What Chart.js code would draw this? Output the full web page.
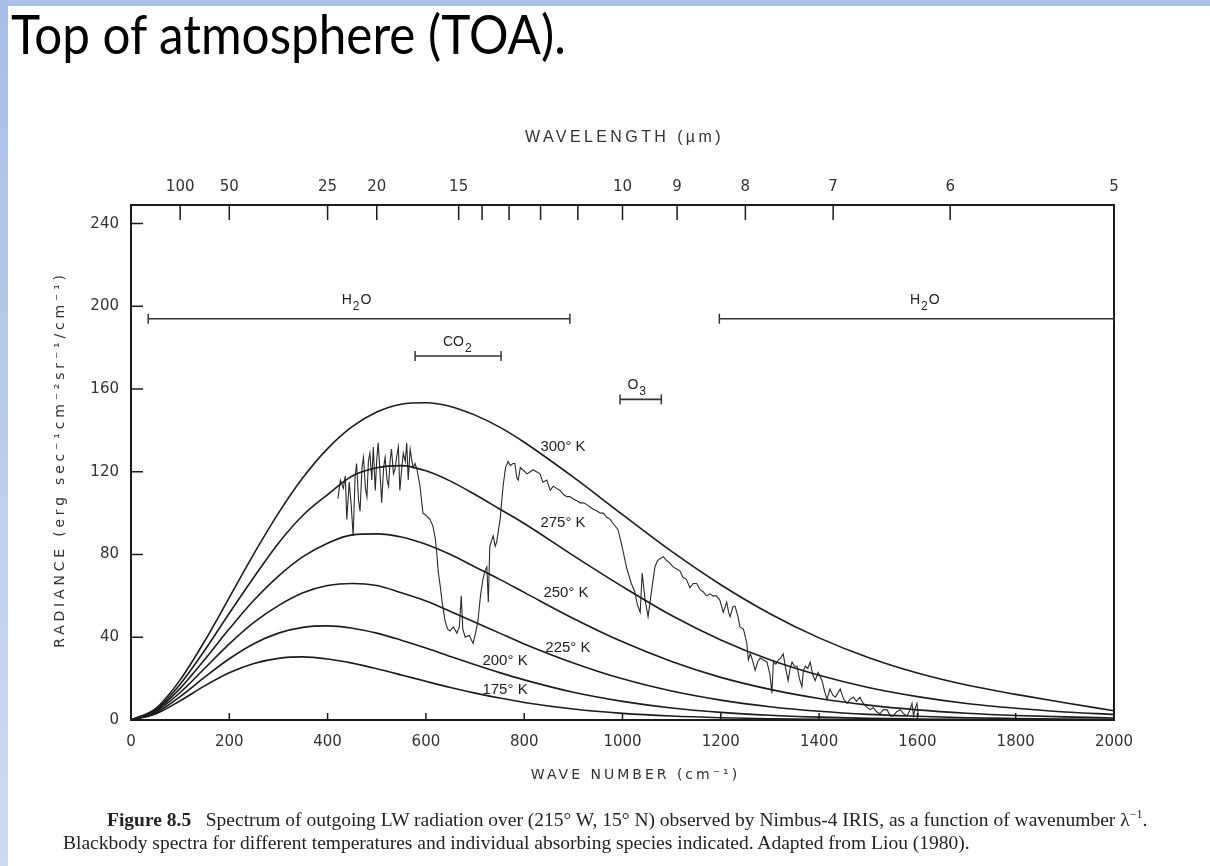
<!DOCTYPE html>
<html>
<head>
<meta charset="utf-8">
<script src="https://cdn.jsdelivr.net/npm/chart.js@4.4.1/dist/chart.umd.min.js"></script>
<style>
  html, body { margin: 0; padding: 0; background: #fff; }
  body { width: 1210px; height: 866px; position: relative; overflow: hidden; }
  #topband { position: absolute; left: 0; top: 0; width: 1210px; height: 6px; background: #adc2e8; }
  #leftband { position: absolute; left: 0; top: 0; width: 8px; height: 866px; background: linear-gradient(#a8bee6, #cfdbf1); }
  #title { position: absolute; left: 11px; top: 7px; font-family: Lato, "Open Sans", sans-serif; font-size: 54px; line-height: 1; color: #000; white-space: nowrap; transform: scaleX(0.915); transform-origin: left top; }
  #chart { position: absolute; left: 0; top: 0; }
  #caption { position: absolute; left: 63px; top: 803px; font-family: "Liberation Serif", "Times New Roman", serif; font-size: 19.5px; line-height: 23px; color: #222; white-space: nowrap; }
  #caption .l1 { padding-left: 44px; }
</style>
</head>
<body>
<div id="topband"></div>
<div id="leftband"></div>
<canvas id="chart" width="1210" height="866"></canvas>
<div id="title">Top of atmosphere (TOA).</div>
<div id="caption">
  <div class="l1"><b>Figure 8.5</b>&nbsp;&nbsp;&nbsp;Spectrum of outgoing LW radiation over (215° W, 15° N) observed by Nimbus-4 IRIS, as a function of wavenumber λ<sup style="font-size:12px">−1</sup>.</div>
  <div>Blackbody spectra for different temperatures and individual absorbing species indicated. Adapted from Liou (1980).</div>
</div>
<script>
// ---------- DATA ----------
const bbWavenumber = [0, 50, 100, 150, 200, 250, 300, 350, 400, 450, 500, 550, 600, 650, 700, 750, 800, 900, 1000, 1100, 1200, 1300, 1400, 1500, 1600, 1700, 1800, 1900, 2000];
const bb300 = [0, 5.5, 19.4, 38.2, 59.2, 80.3, 100.0, 117.2, 131.2, 141.8, 148.9, 152.7, 153.4, 151.6, 147.4, 141.6, 134.3, 117.4, 99.3, 81.5, 65.4, 51.4, 39.7, 30.2, 22.7, 16.9, 12.4, 8.3, 4.5];
const bb275 = [0, 5.0, 17.3, 33.7, 51.6, 69.0, 85.5, 99.0, 109.0, 118.0, 122.0, 123.0, 120.5, 115.5, 109.0, 102.0, 95.0, 79.5, 64.5, 50.5, 38.7, 29.1, 21.6, 15.7, 11.3, 8.0, 5.7, 3.9, 2.7];
const bb250 = [0, 4.5, 15.3, 29.3, 44.1, 57.9, 69.6, 79.0, 85.5, 89.5, 90.0, 88.5, 85.0, 80.0, 74.0, 68.0, 61.7, 49.1, 37.8, 28.3, 20.6, 14.8, 10.4, 7.2, 4.9, 3.3, 2.2, 1.5, 1.0];
const bb225 = [0, 4.0, 13.3, 25.0, 36.8, 47.2, 55.3, 61.5, 65.0, 66.0, 65.0, 61.5, 57.5, 52.5, 47.3, 42.0, 36.8, 27.6, 19.9, 14.0, 9.6, 6.4, 4.2, 2.7, 1.8, 1.1, 0.7, 0.4, 0.3];
const bb200 = [0, 3.4, 11.3, 20.7, 29.6, 36.9, 42.0, 44.8, 45.5, 44.4, 42.0, 38.6, 34.8, 30.7, 26.7, 22.9, 19.4, 13.4, 9.0, 5.8, 3.7, 2.3, 1.4, 0.8, 0.5, 0.3, 0.2, 0.1, 0.05];
const bb175 = [0, 2.9, 9.3, 16.5, 22.8, 27.3, 29.8, 30.5, 29.5, 27.5, 24.8, 21.8, 18.7, 15.7, 13.0, 10.6, 8.5, 5.3, 3.2, 1.9, 1.1, 0.6, 0.3, 0.2, 0.1, 0.05, 0.03, 0.02, 0.01];
const bbNames = ['300° K', '275° K', '250° K', '225° K', '200° K', '175° K'];

const obsWavenumber = [421,426,432,436,439,444,448,452,456,459,463,466,470,473,477,480,483,486,490,493,497,500,503,507,510,514,517,521,524,527,530,534,537,541,544,547,551,554,558,561,564,568,571,574,578,582,
  588,594,600,608,614,619,622,625,629,633,639,644,649,656,663,668,672,675,680,688,696,701,706,711,716,720,724,727,730,734,737,741,744,751,757,762,767,772,777,781,785,788,792,797,806,812,818,825,832,838,846,853,859,866,873,880,887,893,899,907,914,921,928,934,940,948,955,961,968,975,981,991,999,
  1009,1018,1025,1030,1036,1040,1046,1052,1056,1060,1066,1071,1076,1083,1090,1096,1103,1110,1117,1123,1130,1137,1144,1151,1158,1164,1171,1178,1184,1191,1198,1205,1212,1216,1219,1225,1229,1235,1239,1246,1253,1256,1260,1263,1270,1275,1280,1287,1294,1300,1304,1307,1312,1317,1322,1327,1332,1337,1341,1345,1350,1355,1360,1365,1368,1372,1377,1382,1387,1392,1398,1402,1406,1411,1416,1422,1428,1433,1438,1443,1450,1457,1463,1470,1476,1483,1490,1498,1504,1510,1517,1524,1531,1538,1545,1551,1558,1565,1572,1579,1585,1589,1592,1596,1599,1602];
const obsRadiance = [107,116,112,118,97,115,104,89,118,124,106,101,122,127,112,108,125,129,116,132,111,126,134,118,105,122,127,116,113,125,131,119,121,128,132,111,122,129,125,134,116,131,126,122,124,121,
  113,100,99,97,94,88,81,72,65,57,48,44,43,45,42,45,60,44,40,41,37,42,48,60,68,72,74,57,84,87,89,84,86,97,113,122,125,123,124,124,117,116,122,121,119,120,121,120,119,115,116,111,113,112,111,109,108,108,107,106,105,105,104,103,102,101,100,100,98,97,95,92,84,
  73,66,62,56,52,71,58,50,57,64,74,77,78,79,77,76,74,73,72,69,68,64,66,66,63,62,60,61,60,60,58,52,57,52,50,55,55,50,45,44,37,29,32,30,24,28,30,29,28,22,13,28,27,29,30,32,25,19,25,28,26,26,20,16,24,26,25,28,22,19,23,21,19,14,10,15,12,11,13,15,10,8,10,11,9,11,8,6,5,6,4,3,5,5,2,2,4,5,3,2,5,8,2,6,8,2];

const bandNames = ['H2O', 'H2O', 'CO2', 'O3'];
const bandStart = [35, 1197, 578, 995];
const bandEnd = [893, 2000, 753, 1079];
const bandLevel = [194, 194, 176, 155];

const wavelengthMicron = [100, 50, 25, 20, 15, 14, 13, 12, 11, 10, 9, 8, 7, 6, 5];
const wavelengthLabels = ['100', '50', '25', '20', '15', '', '', '', '', '10', '9', '8', '7', '6', '5'];

// ---------- LABEL PLACEMENT (annotation layout, data coords) ----------
const bbLabelPos = [[879, 132], [879, 95.4], [885, 61.5], [889, 35], [761, 28.6], [761, 14.5]];
const bandLabelPos = [[460, 203], [1616, 203], [665, 182.6], [1030, 162]];
const bandLabelParts = [[['H', 0], ['2', 1], ['O', 0]], [['H', 0], ['2', 1], ['O', 0]], [['CO', 0], ['2', 1]], [['O', 0], ['3', 1]]];

// ---------- CHART ----------
const ink = '#1c1c1c';
const tickFont = { family: '"DejaVu Sans", sans-serif', size: 14 };

function bbDataset(name, vals) {
  return {
    label: name,
    data: bbWavenumber.map((x, i) => ({ x: x, y: vals[i] })),
    showLine: true, borderColor: ink, borderWidth: 1.6, pointRadius: 0,
    cubicInterpolationMode: 'monotone', fill: false
  };
}

const datasets = [
  bbDataset(bbNames[0], bb300), bbDataset(bbNames[1], bb275), bbDataset(bbNames[2], bb250),
  bbDataset(bbNames[3], bb225), bbDataset(bbNames[4], bb200), bbDataset(bbNames[5], bb175),
  {
    label: 'Nimbus-4 IRIS',
    data: obsWavenumber.map((x, i) => ({ x: x, y: obsRadiance[i] })),
    showLine: true, borderColor: '#2a2a2a', borderWidth: 1.1, pointRadius: 0, tension: 0, fill: false
  }
];
bandNames.forEach((n, i) => {
  datasets.push({
    label: n,
    data: [{ x: bandStart[i], y: bandLevel[i] }, { x: bandEnd[i], y: bandLevel[i] }],
    showLine: true, borderColor: '#333', borderWidth: 1.6,
    pointStyle: 'line', rotation: 90, pointRadius: 5, pointBorderWidth: 1.5, pointBorderColor: '#333'
  });
});

function drawParts(ctx, parts, cx, cy, size) {
  const big = size + 'px "Liberation Sans", Arial, sans-serif';
  const small = Math.round(size * 0.85) + 'px "Liberation Sans", Arial, sans-serif';
  let w = 0;
  parts.forEach(p => { ctx.font = p[1] ? small : big; w += ctx.measureText(p[0]).width + 1; });
  let x = cx - w / 2;
  ctx.textAlign = 'left';
  ctx.textBaseline = 'middle';
  parts.forEach(p => {
    ctx.font = p[1] ? small : big;
    ctx.fillText(p[0], x, cy + (p[1] ? size * 0.45 : 0));
    x += ctx.measureText(p[0]).width + 1;
  });
}

const decor = {
  id: 'decor',
  afterDraw(chart) {
    const { ctx, chartArea: a, scales } = chart;
    const x = scales.x, y = scales.y, x2 = scales.x2;
    ctx.save();
    ctx.strokeStyle = ink;
    ctx.lineWidth = 1.5;
    ctx.beginPath();
    y.ticks.forEach(t => { if (t.value > 0) { const p = y.getPixelForValue(t.value); ctx.moveTo(a.left, p); ctx.lineTo(a.left + 12, p); } });
    x.ticks.forEach(t => { if (t.value > 0 && t.value < 2000) { const p = x.getPixelForValue(t.value); ctx.moveTo(p, a.bottom); ctx.lineTo(p, a.bottom - 7); } });
    x2.ticks.forEach(t => { if (t.value < 2000) { const p = x2.getPixelForValue(t.value); ctx.moveTo(p, a.top); ctx.lineTo(p, a.top + 15); } });
    ctx.stroke();

    ctx.fillStyle = '#222';
    ctx.font = '15px "Liberation Sans", Arial, sans-serif';
    ctx.textAlign = 'center';
    ctx.textBaseline = 'middle';
    bbNames.forEach((n, i) => {
      ctx.fillText(n, x.getPixelForValue(bbLabelPos[i][0]), y.getPixelForValue(bbLabelPos[i][1]));
    });
    bandLabelParts.forEach((parts, i) => {
      drawParts(ctx, parts, x.getPixelForValue(bandLabelPos[i][0]), y.getPixelForValue(bandLabelPos[i][1]), 14);
    });

    // axis titles
    ctx.fillStyle = '#333';
    ctx.textAlign = 'center';
    ctx.textBaseline = 'middle';
    ctx.font = '16px "Liberation Sans", Arial, sans-serif';
    ctx.letterSpacing = '3.4px';
    ctx.fillText('WAVELENGTH (µm)', (a.left + a.right) / 2 + 2, a.top - 67);
    ctx.font = '14px "DejaVu Sans", sans-serif';
    ctx.letterSpacing = '3px';
    ctx.fillText('WAVE NUMBER (cm⁻¹)', (a.left + a.right) / 2 + 13, a.bottom + 55);
    ctx.save();
    ctx.translate(a.left - 71, (a.top + a.bottom) / 2 - 3);
    ctx.rotate(-Math.PI / 2);
    ctx.letterSpacing = '3.8px';
    ctx.font = '14px "DejaVu Sans", sans-serif';
    ctx.fillText('RADIANCE (erg sec⁻¹cm⁻²sr⁻¹/cm⁻¹)', 0, 0);
    ctx.restore();
    ctx.restore();
  }
};

const border = { display: true, color: ink, width: 2 };

new Chart(document.getElementById('chart'), {
  type: 'scatter',
  data: { datasets: datasets },
  options: {
    responsive: false,
    animation: false,
    layout: { padding: { left: 40, right: 96, top: 150, bottom: 116 } },
    plugins: { legend: { display: false }, tooltip: { enabled: false } },
    scales: {
      x: {
        type: 'linear', position: 'bottom', min: 0, max: 2000,
        ticks: { stepSize: 200, callback: v => String(v), font: { family: tickFont.family, size: 15 }, color: '#333', padding: 13, maxRotation: 0, autoSkip: false },
        grid: { display: false, drawTicks: false }, border: border,
        afterFit: s => { s.height = 30; }
      },
      x2: {
        type: 'linear', position: 'top', min: 0, max: 2000,
        afterBuildTicks: s => { s.ticks = wavelengthMicron.map(l => ({ value: 10000 / l })); },
        ticks: { callback: (v, i) => wavelengthLabels[i], font: { family: tickFont.family, size: 15 }, color: '#333', padding: 9, maxRotation: 0, autoSkip: false },
        grid: { display: false, drawTicks: false }, border: border,
        afterFit: s => { s.height = 55; }
      },
      y: {
        type: 'linear', position: 'left', min: 0, max: 249,
        ticks: { stepSize: 40, includeBounds: false, font: { family: tickFont.family, size: 15 }, color: '#333', padding: 12 },
        grid: { display: false, drawTicks: false }, border: border,
        afterFit: s => { s.width = 91; }
      },
      y2: {
        type: 'linear', position: 'right', min: 0, max: 249,
        ticks: { display: false },
        grid: { display: false, drawTicks: false }, border: border,
        afterFit: s => { s.width = 0; }
      }
    }
  },
  plugins: [decor]
});
</script>
</body>
</html>
